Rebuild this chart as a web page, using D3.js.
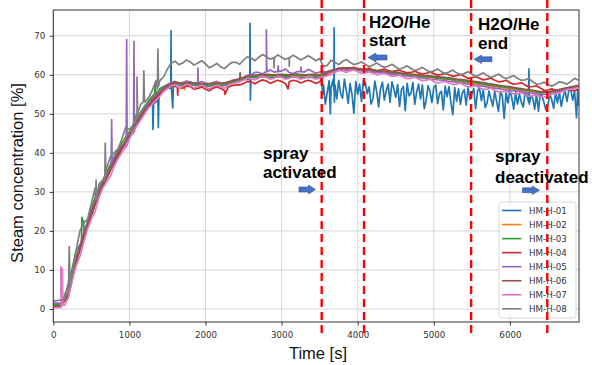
<!DOCTYPE html>
<html>
<head>
<meta charset="utf-8">
<script src="https://cdn.jsdelivr.net/npm/d3@7/dist/d3.min.js"></script>
<style>
  body { margin: 0; background: #fff; }
  svg { display: block; }
</style>
</head>
<body>
<script>
// sample times [s], shared by all sensor series
const times = [
  0, 100, 200, 300, 400, 500, 600, 700, 800, 900,
  1000, 1100, 1200, 1300, 1400, 1500, 1600, 1700, 1800, 1900,
  2000, 2100, 2200, 2300, 2400, 2500, 2600, 2700, 2800, 2900,
  3000, 3100, 3200, 3300, 3400, 3500, 3600, 3700, 3800, 3900,
  4000, 4100, 4200, 4300, 4400, 4500, 4600, 4700, 4800, 4900,
  5000, 5100, 5200, 5300, 5400, 5500, 5600, 5700, 5800, 5900,
  6000, 6100, 6200, 6300, 6400, 6500, 6600, 6700, 6800, 6900
]

const seriesNames = ['HM-H-01', 'HM-H-02', 'HM-H-03', 'HM-H-04', 'HM-H-05', 'HM-H-06', 'HM-H-07', 'HM-H-08']
const seriesColors = ['#1f77b4', '#ff7f0e', '#2ca02c', '#d62728', '#9467bd', '#8c564b', '#e377c2', '#7f7f7f']

// steam concentration [%] at each entry of `times`
const hm01 = [
  0.8, 1, 3.5, 12, 18.5, 24, 29.5, 33.5, 37.5, 41,
  44, 47.5, 50.5, 53, 55, 56.8, 57.6, 57.2, 57.5, 57.2,
  57, 57.2, 57.1, 57.5, 58.2, 58.8, 59.2, 59.4, 59.5, 59.3,
  59.5, 59.3, 59.5, 59.3, 59.4, 59.3, 55.5, 57.5, 54, 57.8,
  55, 58, 53.8, 56.5, 57.6, 54.2, 57, 55.3, 57.6, 53.5,
  56.8, 55.8, 57, 53.2, 56.2, 55, 56.8, 52.8, 55.9, 54.6,
  56.3, 52.5, 55.4, 54, 55.6, 52.4, 55.5, 54.5, 56.2, 52
]
const hm02 = [
  0.8, 1, 4, 12.5, 19, 24.5, 30, 34, 38, 41.5,
  44.5, 48, 51, 53.5, 55.5, 57, 57.8, 57.5, 57.7, 57.5,
  57.3, 57.4, 57.3, 57.7, 58.4, 59, 59.5, 59.7, 59.8, 59.6,
  59.7, 59.6, 59.8, 59.6, 59.7, 59.6, 60.2, 61, 61.4, 61.5,
  61.3, 61.1, 61, 60.8, 60.6, 60.3, 60.1, 59.8, 59.6, 59.4,
  59.2, 59, 58.8, 58.5, 58.2, 57.9, 57.6, 57.3, 57, 56.7,
  56.5, 56.2, 55.9, 55.6, 55.4, 55.4, 55.8, 56.3, 56.7, 57
]
const hm03 = [
  1, 1.2, 6, 15, 22, 26, 31, 35, 39, 42.5,
  45.5, 49, 52, 54.5, 56.5, 57.5, 57.9, 57.6, 57.8, 57.5,
  57.4, 57.5, 57.3, 57.8, 58.5, 59.1, 59.6, 59.8, 59.9, 59.7,
  59.8, 59.7, 59.9, 59.7, 59.8, 59.7, 60.4, 61.1, 61.5, 61.5,
  61.3, 61.1, 60.9, 60.7, 60.5, 60.3, 60.1, 59.9, 59.7, 59.5,
  59.3, 59.1, 58.9, 58.6, 58.3, 58.1, 57.8, 57.5, 57.2, 56.9,
  56.7, 56.4, 56.1, 55.8, 55.5, 55.5, 55.9, 56.4, 56.8, 57.1
]
const hm04 = [
  0.5, 0.8, 3.5, 12, 18.5, 24, 29.5, 33.5, 37.5, 41,
  44, 47.5, 50.5, 53, 55, 56.8, 57, 56.6, 57, 56.5,
  56.3, 56.6, 56.5, 56.9, 57.4, 57.8, 58.2, 58.3, 58.4, 58.2,
  58.3, 58.2, 58.4, 58.3, 58.3, 58.2, 60.3, 61.2, 61.6, 61.6,
  61.5, 61.4, 61.3, 61.2, 61.1, 61, 60.8, 60.6, 60.5, 60.4,
  60.3, 60.1, 60, 59.8, 59.6, 59.3, 59.1, 58.9, 58.6, 58.3,
  58, 57.7, 57.4, 57, 56.6, 56.1, 56, 56, 56.1, 56.3
]
const hm05 = [
  1.5, 1.5, 4.5, 13, 19.5, 25, 30, 34.5, 38.5, 42,
  45, 48.5, 51.5, 54, 56, 57.5, 58.3, 58, 58.2, 58,
  57.9, 58, 57.9, 58.2, 58.8, 59.4, 60, 60.6, 60.8, 60.7,
  61, 60.6, 60.8, 60.7, 60.9, 60.7, 60.5, 61, 61.3, 61.3,
  61.1, 60.9, 60.7, 60.5, 60.3, 60, 59.8, 59.5, 59.3, 59,
  58.8, 58.6, 58.3, 58.1, 57.8, 57.5, 57.2, 56.9, 56.6, 56.3,
  56, 55.8, 55.5, 55.2, 55, 55, 55.5, 56, 56.5, 56.9
]
const hm06 = [
  0.6, 0.8, 3.8, 12.5, 19, 24.5, 30, 34, 38, 41.5,
  44.5, 48, 51, 53.5, 55.5, 57.2, 58.1, 57.8, 58, 57.8,
  57.7, 57.9, 57.8, 58.1, 58.7, 59.3, 59.8, 60, 60.1, 60,
  60.1, 60, 60.2, 60, 60.1, 60, 60.8, 61.4, 61.8, 61.8,
  61.6, 61.4, 61.2, 61, 60.8, 60.6, 60.4, 60.2, 60, 59.8,
  59.6, 59.4, 59.2, 58.9, 58.7, 58.4, 58.1, 57.8, 57.5, 57.2,
  56.9, 56.6, 56.3, 56, 55.7, 55.6, 56, 56.5, 56.9, 57.3
]
const hm07 = [
  0.3, 0.4, 3, 11, 17, 23, 28.5, 32.5, 36.5, 40,
  43.5, 47, 50, 52.5, 54.5, 56.5, 57.4, 57, 57.3, 57,
  56.8, 57, 56.9, 57.3, 58, 58.6, 59, 59.2, 59.3, 59.1,
  59.3, 59.1, 59.3, 59.2, 59.3, 59.2, 59.8, 60.6, 61, 61,
  60.8, 60.5, 60.4, 60.2, 60, 59.7, 59.4, 59.1, 58.9, 58.6,
  58.3, 58.1, 57.9, 57.6, 57.3, 57, 56.7, 56.3, 56, 55.7,
  55.5, 55.2, 54.9, 54.6, 54.4, 54.6, 55.2, 55.8, 56.3, 56.8
]
const hm08 = [
  2, 2.3, 7, 15, 22, 27, 32, 36, 40, 43.5,
  46, 49.5, 53, 56, 58.5, 61.5, 63.5, 63, 63.3, 63,
  62.8, 62.3, 62, 62.5, 63.2, 63.8, 64.3, 64.5, 64.6, 64.4,
  64.5, 64.4, 64.5, 64.3, 64.3, 64.2, 62.4, 63.2, 63.4, 63.2,
  62.9, 62.7, 62.5, 62.4, 62.2, 62, 61.8, 61.6, 61.4, 61.2,
  61, 60.8, 60.7, 60.5, 60.3, 60.2, 60, 59.8, 59.7, 59.5,
  59.4, 59.1, 58.7, 58.2, 57.7, 57.5, 57.6, 58, 58.3, 58.6
]

// extra readings [t, value] between the grid times: spikes and sensor noise
const hm01Extra = [
  [1305, 52], [1310, 46], [1318, 52.5], [1375, 53.5], [1380, 46.5], [1388, 54],
  [1544, 56.5], [1547, 71.3], [1551, 56.8], [1570, 51.5], [1578, 57.5],
  [2582, 58.8], [2585, 73.2], [2590, 53.5], [2596, 59],
  [3525, 59], [3540, 55], [3550, 57.5], [3575, 52.5], [3625, 58.5], [3640, 50], [3650, 56.8],
  [3675, 58.7], [3687, 56], [3690, 72], [3693, 53], [3725, 53.8], [3750, 58.6], [3775, 55.2],
  [3825, 58.9], [3850, 56], [3875, 52.7], [3925, 55], [3950, 50.2], [3975, 58.3],
  [4025, 57.6], [4050, 53.2], [4075, 58.5], [4125, 55.2], [4150, 56.9], [4175, 52.5],
  [4225, 58.4], [4250, 55.6], [4275, 51.8], [4325, 58.1], [4350, 53.5], [4375, 55.9],
  [4425, 52.9], [4450, 58.2], [4475, 56.4], [4525, 57.5], [4550, 51.9], [4575, 56.2],
  [4625, 50.8], [4650, 57.8], [4675, 54.6], [4725, 58], [4750, 52.4], [4775, 55.6],
  [4825, 53.8], [4850, 57.4], [4875, 51.3], [4925, 57.2], [4950, 55.8], [4975, 52.9],
  [5025, 57.4], [5050, 52.6], [5075, 55.2], [5125, 51], [5150, 57.1], [5175, 54.4],
  [5225, 52.8], [5250, 49.8], [5275, 56.7], [5325, 56.4], [5350, 52.4], [5375, 55.3],
  [5425, 52.2], [5450, 56.8], [5475, 53.7], [5525, 56.5], [5550, 51.3], [5575, 55.8],
  [5625, 53.4], [5650, 56.2], [5675, 51.6], [5725, 55.8], [5750, 53.9], [5775, 51.9],
  [5825, 53.2], [5850, 50.6], [5875, 55.7], [5925, 48.8], [5950, 55.4], [5975, 52.8],
  [6025, 54.1], [6050, 51.2], [6075, 55.5], [6125, 55.1], [6150, 53], [6175, 51.7],
  [6225, 54.8], [6245, 53], [6250, 61.5], [6255, 52.5], [6275, 54.6], [6325, 51.2],
  [6350, 55], [6375, 50.6], [6425, 54.4], [6450, 52.7], [6475, 50.9], [6525, 55],
  [6550, 53.6], [6575, 51.4], [6625, 52.8], [6650, 55.6], [6675, 51.9], [6725, 55.8],
  [6750, 53.2], [6775, 56.1], [6825, 53.5], [6850, 55.9], [6875, 49], [6890, 56]
]
const hm02Extra = [[1720, 57.8], [1725, 56.2], [1730, 57.6]]
const hm03Extra = [[370, 17], [375, 23.5], [400, 22.5], [405, 19], [1330, 55], [1340, 58], [1350, 55]]
const hm04Extra = [
  [1550, 57.2], [1630, 56.8], [1635, 54.8], [1640, 56.8], [1750, 57.1], [1850, 56.3], [1950, 56.9],
  [2050, 55.9], [2150, 56.9], [2250, 56], [2255, 55], [2350, 57.2], [2450, 57.4], [2550, 58.3],
  [2650, 57.7], [2750, 58.7], [2850, 57.8], [2950, 58.6], [3050, 57.8], [3085, 56.4], [3150, 58.6],
  [3250, 57.9], [3350, 58.6], [3450, 57.8], [3550, 59.5], [3650, 61], [3750, 61.7], [3850, 61.2],
  [3950, 61.9], [4050, 61.2], [4150, 61.7], [4250, 61], [4350, 61.5], [4450, 60.8], [4550, 61.2],
  [4650, 60.5], [4750, 60.9], [4850, 60.2], [4950, 60.7], [5050, 59.9], [5150, 60.4], [5250, 59.6],
  [5350, 60.1], [5450, 59.1], [5550, 59.5], [5650, 58.7], [5750, 59.2], [5850, 58.2], [5950, 58.6],
  [6050, 57.6], [6150, 58], [6250, 56.9], [6350, 57.2], [6450, 56], [6550, 56.4], [6650, 55.8],
  [6750, 56.3], [6850, 55.9]
]
const hm05Extra = [
  [760, 36], [767, 48.5], [774, 36.5], [958, 41.5], [964, 69], [970, 42],
  [1054, 45], [1060, 68.6], [1066, 45.5], [1550, 58], [1650, 57.6], [1750, 58.4], [1850, 57.7],
  [1895, 58], [1900, 61.7], [1905, 58], [1950, 58.3], [2050, 57.6], [2150, 58.3], [2250, 57.6],
  [2350, 58.6], [2450, 58.9], [2550, 59.9], [2650, 60.6], [2750, 60.2],
  [2795, 60.8], [2800, 71.5], [2806, 60.8], [2850, 61.2], [2950, 60.8], [2955, 62.3], [2960, 60.8],
  [3050, 61.5], [3150, 60.3], [3250, 60.8], [3255, 62], [3260, 60.8], [3350, 61.4], [3450, 60.4],
  [3550, 60.9]
]
const hm06Extra = [[2450, 59], [2455, 60.5], [2460, 59]]
const hm07Extra = [
  [95, 0.4], [100, 10.8], [120, 10], [125, 1], [150, 1], [250, 7.5], [350, 13.5], [450, 20.5],
  [550, 25], [650, 31], [750, 34], [850, 38.5], [950, 41.5], [1050, 45.5], [1150, 48.5],
  [1250, 51.5], [1350, 53.5], [1450, 55.8], [1550, 57.2], [1650, 56.6], [1750, 57.6], [1850, 56.6],
  [1950, 57.4], [2050, 56.4], [2150, 57.3], [2250, 56.5], [2350, 57.7], [2450, 58.2], [2550, 59.1],
  [2650, 58.7], [2750, 59.6], [2850, 58.9], [2950, 59.6], [3050, 58.9], [3150, 59.6], [3250, 58.9],
  [3350, 59.6], [3450, 58.9], [3550, 59.5], [3650, 60.1], [3750, 61.1], [3850, 60.6], [3950, 61.3],
  [4050, 60.4], [4150, 60.8], [4250, 60], [4350, 60.4], [4450, 59.6], [4550, 60], [4650, 59],
  [4750, 59.4], [4850, 58.5], [4950, 58.9], [5050, 57.9], [5150, 58.3], [5250, 57.5], [5350, 57.9],
  [5450, 56.9], [5550, 57.2], [5650, 56.3], [5750, 56.6], [5850, 55.6], [5950, 55.9], [6050, 55.1],
  [6150, 55.4], [6250, 54.5], [6350, 54.8], [6450, 54.2], [6550, 55.1], [6650, 55.3], [6750, 56.2],
  [6850, 56.4]
]
const hm08Extra = [
  [150, 2.5], [200, 5], [210, 16], [220, 6], [250, 9], [350, 20], [450, 23], [550, 31], [555, 28],
  [562, 33], [569, 28], [650, 33], [676, 33], [683, 42.5], [690, 34], [750, 39], [850, 41],
  [950, 46.5], [1050, 47], [1093, 50], [1100, 59.4], [1107, 50], [1150, 52.5], [1183, 53],
  [1190, 61], [1197, 54], [1250, 54], [1350, 58.5], [1368, 56.5], [1375, 66.6], [1382, 57],
  [1450, 59.5], [1550, 63], [1650, 62.6], [1750, 63.8], [1850, 62.5], [1950, 63.6], [2050, 61.8],
  [2150, 62.9], [2250, 61.6], [2350, 63.2], [2450, 62.7], [2550, 64.6], [2650, 63.6], [2750, 65.2],
  [2850, 64], [2895, 64.4], [2900, 61.8], [2905, 64.4], [2950, 65.1], [3050, 63.9], [3095, 64.4],
  [3100, 62.2], [3105, 64.4], [3150, 65], [3250, 63.8], [3350, 64.9], [3450, 63.6], [3550, 62.1],
  [3650, 63.7], [3750, 62.6], [3850, 63.9], [3950, 62.6], [4050, 63.3], [4150, 62.1], [4250, 63],
  [4350, 61.9], [4450, 62.7], [4550, 61.4], [4650, 62.3], [4750, 61.1], [4850, 61.9], [4950, 60.7],
  [5050, 61.5], [5150, 60.3], [5250, 61.2], [5350, 60], [5450, 60.8], [5550, 59.6], [5650, 60.5],
  [5750, 59.3], [5850, 60.2], [5950, 59], [6050, 59.8], [6150, 58.6], [6250, 59.1], [6350, 57.6],
  [6450, 58.1], [6550, 57.1], [6650, 58.2], [6750, 57.6], [6850, 59.1]
]

// event times [s] marked with dashed lines
const events = [3527, 4083, 5490, 6491]

const xTicks = [0, 1000, 2000, 3000, 4000, 5000, 6000]
const yTicks = [0, 10, 20, 30, 40, 50, 60, 70]

const seriesValues = [hm01, hm02, hm03, hm04, hm05, hm06, hm07, hm08]
const seriesExtra = [hm01Extra, hm02Extra, hm03Extra, hm04Extra, hm05Extra, hm06Extra, hm07Extra, hm08Extra]

const width = 592
const height = 365
const plot = {left: 53.3, right: 579, top: 10, bottom: 322}

const x = d3.scaleLinear().domain([0, 6908]).range([plot.left, plot.right])
const y = d3.scaleLinear().domain([-3.33, 76.6]).range([plot.bottom, plot.top])

const svg = d3.select('body').append('svg')
    .attr('width', width)
    .attr('height', height)
    .style('font-family', 'DejaVu Sans, sans-serif')

svg.append('defs').append('clipPath').attr('id', 'plot-clip')
    .append('rect')
    .attr('x', plot.left).attr('y', plot.top)
    .attr('width', plot.right - plot.left).attr('height', plot.bottom - plot.top)

// grid
const grid = svg.append('g').attr('stroke', '#d6d6d6').attr('stroke-width', 1)
grid.selectAll('line.gx').data(xTicks).join('line')
    .attr('x1', d => x(d)).attr('x2', d => x(d))
    .attr('y1', plot.top).attr('y2', plot.bottom)
grid.selectAll('line.gy').data(yTicks).join('line')
    .attr('x1', plot.left).attr('x2', plot.right)
    .attr('y1', d => y(d)).attr('y2', d => y(d))

// sensor lines
const series = seriesNames.map((name, i) => ({
    name,
    color: seriesColors[i],
    points: times.map((t, j) => [t, seriesValues[i][j]])
        .concat(seriesExtra[i])
        .sort((a, b) => a[0] - b[0])
}))

const line = d3.line().x(d => x(d[0])).y(d => y(d[1]))

svg.append('g')
    .attr('clip-path', 'url(#plot-clip)')
    .attr('fill', 'none')
    .selectAll('path')
    .data(series)
    .join('path')
    .attr('stroke', d => d.color)
    .attr('stroke-width', 1.7)
    .attr('stroke-linejoin', 'round')
    .attr('d', d => line(d.points))

// axes
const xAxis = svg.append('g')
    .attr('transform', `translate(0,${plot.bottom})`)
    .call(d3.axisBottom(x).tickValues(xTicks).tickFormat(d3.format('d'))
        .tickSize(3.5).tickPadding(6).tickSizeOuter(0))
const yAxis = svg.append('g')
    .attr('transform', `translate(${plot.left},0)`)
    .call(d3.axisLeft(y).tickValues(yTicks).tickFormat(d3.format('d'))
        .tickSize(3.5).tickPadding(4.5).tickSizeOuter(0))

for (const ax of [xAxis, yAxis]) {
    ax.select('.domain').remove()
    ax.selectAll('line').attr('stroke', '#333')
    ax.selectAll('text')
        .attr('fill', '#333')
        .style('font-size', '8.7px')
        .style('font-family', 'DejaVu Sans, sans-serif')
}

svg.append('rect')
    .attr('x', plot.left).attr('y', plot.top)
    .attr('width', plot.right - plot.left).attr('height', plot.bottom - plot.top)
    .attr('fill', 'none')
    .attr('stroke', '#333')
    .attr('stroke-width', 1)

// legend
const legend = svg.append('g').attr('transform', 'translate(499,202)')
legend.append('rect')
    .attr('width', 77).attr('height', 116)
    .attr('rx', 2.5)
    .attr('fill', 'rgba(255,255,255,0.85)')
    .attr('stroke', '#d0d0d0')
    .attr('stroke-width', 0.8)
const entry = legend.selectAll('g')
    .data(series)
    .join('g')
    .attr('transform', (d, i) => `translate(0,${8.5 + i * 14.05})`)
entry.append('line')
    .attr('x1', 3).attr('x2', 22.5)
    .attr('stroke', d => d.color)
    .attr('stroke-width', 1.6)
entry.append('text')
    .attr('x', 30)
    .attr('y', 3.2)
    .attr('fill', '#333')
    .style('font-size', '8.7px')
    .text(d => d.name)

// axis titles
svg.append('text')
    .attr('x', 318).attr('y', 359)
    .attr('text-anchor', 'middle')
    .style('font-family', 'Liberation Sans, Arial, sans-serif')
    .style('font-size', '16.5px')
    .attr('fill', '#111')
    .text('Time [s]')
svg.append('text')
    .attr('transform', 'translate(23,173) rotate(-90)')
    .attr('text-anchor', 'middle')
    .style('font-family', 'Liberation Sans, Arial, sans-serif')
    .style('font-size', '16.5px')
    .attr('fill', '#111')
    .text('Steam concentration [%]')

// event markers
svg.append('g')
    .selectAll('line')
    .data(events)
    .join('line')
    .attr('x1', d => x(d)).attr('x2', d => x(d))
    .attr('y1', 0).attr('y2', 334)
    .attr('stroke', '#ff0000')
    .attr('stroke-width', 2.4)
    .attr('stroke-dasharray', '8,5')

// annotations
const notes = [
    {lines: ['H2O/He', 'start'], x: 369, y: 28, dy: 17.5},
    {lines: ['H2O/He', 'end'], x: 478, y: 29.5, dy: 19.5},
    {lines: ['spray', 'activated'], x: 263, y: 159, dy: 19},
    {lines: ['spray', 'deactivated'], x: 495, y: 162, dy: 20.5}
]
const noteText = svg.append('g')
    .style('font-family', 'Liberation Sans, Arial, sans-serif')
    .style('font-size', '17px')
    .style('font-weight', 'bold')
    .attr('fill', '#000')
    .selectAll('text')
    .data(notes)
    .join('text')
    .attr('x', d => d.x)
    .attr('y', d => d.y)
noteText.selectAll('tspan')
    .data(d => d.lines.map((s, i) => ({s, i, d})))
    .join('tspan')
    .attr('x', d => d.d.x)
    .attr('dy', d => d.i === 0 ? 0 : d.d.dy)
    .text(d => d.s)

// block arrows
const arrows = [
    {x0: 368, x1: 387, y0: 53, y1: 62, dir: 'left'},
    {x0: 474, x1: 492, y0: 55, y1: 63.5, dir: 'left'},
    {x0: 299, x1: 315.5, y0: 185, y1: 194, dir: 'right'},
    {x0: 522.5, x1: 539.5, y0: 186, y1: 194.5, dir: 'right'}
]
function arrowPath(a) {
    const ym = (a.y0 + a.y1) / 2
    const sh = (a.y1 - a.y0) * 0.28
    const head = (a.x1 - a.x0) * 0.42
    if (a.dir === 'left') {
        const hx = a.x0 + head
        return `M${a.x0},${ym}L${hx},${a.y0}L${hx},${ym - sh}L${a.x1},${ym - sh}L${a.x1},${ym + sh}L${hx},${ym + sh}L${hx},${a.y1}Z`
    }
    const hx = a.x1 - head
    return `M${a.x1},${ym}L${hx},${a.y0}L${hx},${ym - sh}L${a.x0},${ym - sh}L${a.x0},${ym + sh}L${hx},${ym + sh}L${hx},${a.y1}Z`
}
svg.append('g')
    .selectAll('path')
    .data(arrows)
    .join('path')
    .attr('d', arrowPath)
    .attr('fill', '#4472c4')
    .attr('stroke', '#2f528f')
    .attr('stroke-width', 0.6)
</script>
</body>
</html>
